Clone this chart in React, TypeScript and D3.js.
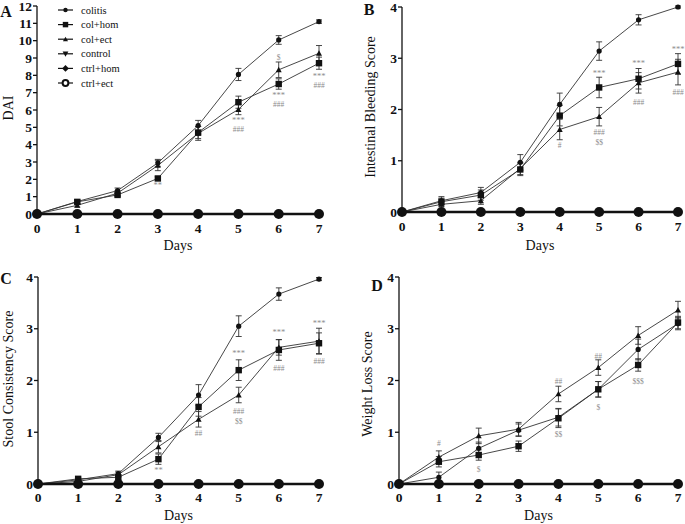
import React from "react";
import * as d3 from "d3";

const days = [0, 1, 2, 3, 4, 5, 6, 7];
const seriesNames = ["colitis", "col+hom", "col+ect", "control", "ctrl+hom", "ctrl+ect"];

// Panel A: DAI
const daiColitis = [0, 0.72, 1.35, 2.95, 5.1, 8.05, 10.04, 11.1];
const daiColHom = [0, 0.7, 1.1, 2.05, 4.7, 6.45, 7.5, 8.7];
const daiColEct = [0, 0.5, 1.2, 2.8, 4.65, 6.03, 8.32, 9.27];
const daiColitisErr = [0, 0.1, 0.15, 0.2, 0.3, 0.35, 0.25, 0.1];
const daiColHomErr = [0, 0.1, 0.1, 0.1, 0.35, 0.35, 0.3, 0.35];
const daiColEctErr = [0, 0.1, 0.15, 0.3, 0.4, 0.3, 0.45, 0.45];

// Panel B: Intestinal bleeding
const bleedColitis = [0, 0.22, 0.38, 0.97, 2.1, 3.14, 3.75, 4.0];
const bleedColHom = [0, 0.2, 0.33, 0.83, 1.88, 2.43, 2.6, 2.89];
const bleedColEct = [0, 0.15, 0.22, 0.85, 1.61, 1.86, 2.52, 2.73];
const bleedColitisErr = [0, 0.08, 0.1, 0.15, 0.22, 0.18, 0.1, 0.02];
const bleedColHomErr = [0, 0.07, 0.1, 0.12, 0.2, 0.2, 0.2, 0.2];
const bleedColEctErr = [0, 0.05, 0.07, 0.12, 0.2, 0.18, 0.2, 0.25];

// Panel C: Stool consistency
const stoolColitis = [0, 0.08, 0.2, 0.9, 1.72, 3.05, 3.67, 3.96];
const stoolColHom = [0, 0.1, 0.13, 0.48, 1.49, 2.2, 2.59, 2.72];
const stoolColEct = [0, 0.05, 0.18, 0.72, 1.25, 1.72, 2.64, 2.76];
const stoolColitisErr = [0, 0.03, 0.05, 0.08, 0.2, 0.2, 0.12, 0.03];
const stoolColHomErr = [0, 0.03, 0.05, 0.1, 0.18, 0.2, 0.2, 0.2];
const stoolColEctErr = [0, 0.03, 0.05, 0.12, 0.15, 0.15, 0.15, 0.25];

// Panel D: Weight loss
const weightColitis = [0, 0.13, 0.69, 1.04, 1.29, 1.83, 2.6, 3.1];
const weightColHom = [0, 0.43, 0.56, 0.73, 1.27, 1.83, 2.3, 3.12];
const weightColEct = [0, 0.52, 0.93, 1.06, 1.74, 2.25, 2.87, 3.36];
const weightColitisErr = [0, 0.1, 0.12, 0.12, 0.17, 0.15, 0.2, 0.12];
const weightColHomErr = [0, 0.1, 0.1, 0.1, 0.18, 0.15, 0.12, 0.12];
const weightColEctErr = [0, 0.12, 0.15, 0.13, 0.15, 0.15, 0.17, 0.17];

// Controls (all zero)
const controlValues = [0, 0, 0, 0, 0, 0, 0, 0];

// Significance annotations: [day, value, text]
const annA: [number, number, string][] = [
  [3, 1.6, "**"], [5, 5.4, "***"], [5, 4.92, "###"], [6, 9.08, "$"], [6, 6.84, "***"], [6, 6.36, "###"], [7, 7.93, "***"], [7, 7.45, "###"],
];
const annB: [number, number, string][] = [
  [4, 1.31, "#"], [5, 2.69, "***"], [5, 1.57, "###"], [5, 1.37, "$$"], [6, 2.89, "***"], [6, 2.15, "###"], [7, 3.17, "***"], [7, 2.35, "###"],
];
const annC: [number, number, string][] = [
  [3, 0.25, "**"], [4, 0.99, "##"], [5, 2.51, "***"], [5, 1.41, "###"], [5, 1.22, "$$"], [6, 2.92, "***"], [6, 2.24, "###"], [7, 3.09, "***"], [7, 2.38, "###"],
];
const annD: [number, number, string][] = [
  [1, 0.79, "#"], [2, 0.29, "$"], [4, 2.0, "##"], [4, 0.97, "$$"], [5, 2.49, "##"], [5, 1.49, "$"], [6, 2.0, "$$$"],
];

const FONT = "Times New Roman, Liberation Serif, DejaVu Serif, serif";

type Marker = "circle" | "square" | "triangle" | "invtri" | "diamond" | "open";

function MarkerShape({ kind, x, y, s = 1 }: { kind: Marker; x: number; y: number; s?: number }) {
  if (kind === "circle") return <circle cx={x} cy={y} r={2.6 * s} fill="#111" />;
  if (kind === "square") return <rect x={x - 3.2 * s} y={y - 3.2 * s} width={6.4 * s} height={6.4 * s} fill="#111" />;
  if (kind === "triangle") {
    const r = 3 * s;
    return <path d={`M${x},${y - r}L${x + r},${y + r * 0.8}L${x - r},${y + r * 0.8}Z`} fill="#111" />;
  }
  if (kind === "invtri") {
    const r = 3.4 * s;
    return <path d={`M${x},${y + r}L${x + r},${y - r * 0.8}L${x - r},${y - r * 0.8}Z`} fill="#111" />;
  }
  if (kind === "diamond") {
    const r = 4 * s;
    return <path d={`M${x},${y - r}L${x + r},${y}L${x},${y + r}L${x - r},${y}Z`} fill="#111" />;
  }
  return <circle cx={x} cy={y} r={3.4 * s} fill="white" stroke="#111" strokeWidth={2} />;
}

interface PanelProps {
  letter: string;
  ylabel: string;
  x0: number; x1: number; yBase: number; yTop: number;
  ymax: number;
  yTicks: number[];
  series: { vals: number[]; err: number[]; marker: Marker }[];
  ann: [number, number, string][];
  letterPos: [number, number];
  ylabelPos: [number, number];
  tickLabelY: number;
  daysY: number;
  legend?: boolean;
}

function Panel(p: PanelProps) {
  const x = d3.scaleLinear().domain([0, 7]).range([p.x0, p.x1]);
  const y = d3.scaleLinear().domain([0, p.ymax]).range([p.yBase, p.yTop]);
  const line = d3.line<number>().x((_, i) => x(days[i])).y((v) => y(v));
  return (
    <g>
      <line x1={p.x0} x2={p.x0} y1={p.yBase} y2={p.yTop} stroke="#111" strokeWidth={1.3} />
      {p.yTicks.map((t) => (
        <g key={t}>
          <line x1={p.x0 - 4} x2={p.x0} y1={y(t)} y2={y(t)} stroke="#111" strokeWidth={1.3} />
          <text x={p.x0 - 5} y={y(t)} dy="0.35em" textAnchor="end" fontFamily={FONT} fontWeight="bold" fontSize={13.5} fill="#111">{t}</text>
        </g>
      ))}
      <line x1={p.x0} x2={p.x1} y1={p.yBase} y2={p.yBase} stroke="#111" strokeWidth={1.3} />
      {days.map((d) => (
        <g key={d}>
          <line x1={x(d)} x2={x(d)} y1={p.yBase} y2={p.yBase + 4} stroke="#111" strokeWidth={1.3} />
          <text x={x(d)} y={p.tickLabelY} dy="0.35em" textAnchor="middle" fontFamily={FONT} fontWeight="bold" fontSize={13.5} fill="#111">{d}</text>
        </g>
      ))}
      <text x={(p.x0 + p.x1) / 2} y={p.daysY} dy="0.35em" textAnchor="middle" fontFamily={FONT} fontSize={14} fill="#111">Days</text>
      <text x={p.ylabelPos[0]} y={p.ylabelPos[1]} dy="0.35em" textAnchor="middle" fontFamily={FONT} fontSize={14} fill="#111"
        transform={`rotate(-90 ${p.ylabelPos[0]} ${p.ylabelPos[1]})`}>{p.ylabel}</text>
      <text x={p.letterPos[0]} y={p.letterPos[1]} dy="0.35em" textAnchor="middle" fontFamily={FONT} fontWeight="bold" fontSize={16} fill="#111">{p.letter}</text>

      {p.series.map((s, si) => (
        <path key={"l" + si} d={line(s.vals) || ""} fill="none" stroke="#333" strokeWidth={0.9} />
      ))}
      {p.series.map((s, si) =>
        s.vals.map((v, i) =>
          s.err[i] > 0 ? (
            <g key={`e${si}-${i}`} stroke="#333" strokeWidth={0.9}>
              <line x1={x(days[i])} x2={x(days[i])} y1={y(v - s.err[i])} y2={y(v + s.err[i])} />
              <line x1={x(days[i]) - 3} x2={x(days[i]) + 3} y1={y(v + s.err[i])} y2={y(v + s.err[i])} />
              <line x1={x(days[i]) - 3} x2={x(days[i]) + 3} y1={y(v - s.err[i])} y2={y(v - s.err[i])} />
            </g>
          ) : null
        )
      )}
      {p.series.map((s, si) =>
        s.vals.map((v, i) => <MarkerShape key={`m${si}-${i}`} kind={s.marker} x={x(days[i])} y={y(v)} />)
      )}
      <path d={line(controlValues) || ""} fill="none" stroke="#111" strokeWidth={2.6} />
      {controlValues.map((v, i) => (
        <circle key={"c" + i} cx={x(days[i])} cy={y(v)} r={5} fill="#111" />
      ))}
      {p.ann.map(([d, v, t], i) => {
        const star = t.startsWith("*");
        return (
          <text key={"a" + i} x={x(d)} y={y(v)} dy={star ? "0.25em" : "0.45em"} textAnchor="middle" fontFamily={FONT}
            fontSize={star ? 8.5 : 7.5} fill="#8c8c8c">{t}</text>
        );
      })}
      {p.legend && (
        <g>
          {seriesNames.map((n, i) => {
            const ly = 10 + i * 14.6;
            const kinds: Marker[] = ["circle", "square", "triangle", "invtri", "diamond", "open"];
            return (
              <g key={n}>
                <line x1={58} x2={73} y1={ly} y2={ly} stroke="#111" strokeWidth={1.2} />
                <MarkerShape kind={kinds[i]} x={65.5} y={ly} s={0.85} />
                <text x={81} y={ly} dy="0.35em" fontFamily={FONT} fontSize={10.5} fill="#111">{n}</text>
              </g>
            );
          })}
        </g>
      )}
    </g>
  );
}

export default function App() {
  return (
    <svg width={685} height={524} style={{ position: "absolute", left: 0, top: 0, background: "white" }}>
      <Panel letter="A" ylabel="DAI" x0={37} x1={319} yBase={214} yTop={6} ymax={12}
        yTicks={d3.range(0, 13)}
        series={[
          { vals: daiColitis, err: daiColitisErr, marker: "circle" },
          { vals: daiColHom, err: daiColHomErr, marker: "square" },
          { vals: daiColEct, err: daiColEctErr, marker: "triangle" },
        ]}
        ann={annA} letterPos={[6, 11]} ylabelPos={[8, 108]} tickLabelY={228} daysY={245} legend />
      <Panel letter="B" ylabel="Intestinal Bleeding Score" x0={402} x1={678} yBase={212} yTop={7} ymax={4}
        yTicks={[0, 1, 2, 3, 4]}
        series={[
          { vals: bleedColitis, err: bleedColitisErr, marker: "circle" },
          { vals: bleedColHom, err: bleedColHomErr, marker: "square" },
          { vals: bleedColEct, err: bleedColEctErr, marker: "triangle" },
        ]}
        ann={annB} letterPos={[369, 9]} ylabelPos={[370, 107]} tickLabelY={226} daysY={245} />
      <Panel letter="C" ylabel="Stool Consistency Score" x0={38} x1={319} yBase={484} yTop={277} ymax={4}
        yTicks={[0, 1, 2, 3, 4]}
        series={[
          { vals: stoolColitis, err: stoolColitisErr, marker: "circle" },
          { vals: stoolColHom, err: stoolColHomErr, marker: "square" },
          { vals: stoolColEct, err: stoolColEctErr, marker: "triangle" },
        ]}
        ann={annC} letterPos={[6, 278]} ylabelPos={[8, 379]} tickLabelY={497} daysY={515} />
      <Panel letter="D" ylabel="Weight Loss Score" x0={399} x1={678} yBase={484} yTop={277} ymax={4}
        yTicks={[0, 1, 2, 3, 4]}
        series={[
          { vals: weightColitis, err: weightColitisErr, marker: "circle" },
          { vals: weightColHom, err: weightColHomErr, marker: "square" },
          { vals: weightColEct, err: weightColEctErr, marker: "triangle" },
        ]}
        ann={annD} letterPos={[377, 285]} ylabelPos={[367, 384]} tickLabelY={497} daysY={515} />
    </svg>
  );
}
